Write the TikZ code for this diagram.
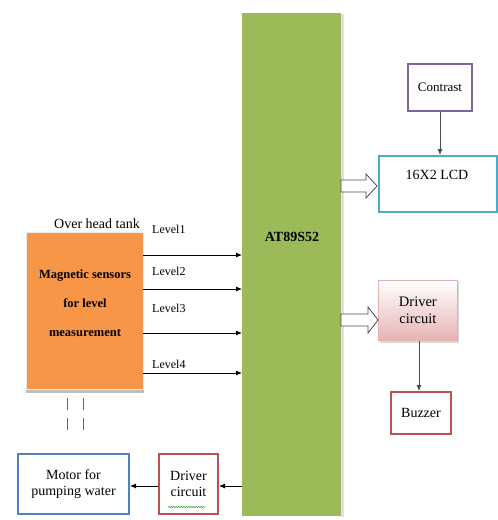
\documentclass[tikz,border=0pt]{standalone}
\usepackage{fontspec}
\setmainfont{Liberation Serif}
\usetikzlibrary{arrows.meta,decorations.pathmorphing}
\definecolor{mcgreen}{HTML}{9BBB59}
\definecolor{mcorange}{HTML}{F79646}
\definecolor{mcpurple}{HTML}{8064A2}
\definecolor{mccyan}{HTML}{4BACC6}
\definecolor{mcred}{HTML}{C0504D}
\definecolor{mcblue}{HTML}{4F81BD}
\definecolor{mcpink}{HTML}{E6B3B2}
\tikzset{
  x=1pt,y=-1pt,
  txt/.style={font=\fontsize{14}{15}\selectfont, inner sep=0pt},
  lvl/.style={font=\fontsize{12}{14}\selectfont, inner sep=0pt, anchor=west},
  boxed/.style={draw, line width=2pt, fill=white, align=center, font=\fontsize{14}{16}\selectfont, inner sep=0pt},
  arr/.style={-{Latex[length=6pt,width=5pt]}, line width=0.8pt},
  darr/.style={-{Latex[length=6pt,width=5pt]}, line width=0.8pt, draw=black!70},
  hollow/.style={draw=black!70, fill=white, line width=0.8pt},
  dsh/.style={draw=black!60, line width=1pt, dash pattern=on 12pt off 8pt}
}
\begin{document}
\begin{tikzpicture}
\useasboundingbox (0,0) rectangle (498,520);
% microcontroller
\fill[black!12] (341,14) rectangle (344,517);
\node[fill=mcgreen, minimum width=99pt, minimum height=503pt, inner sep=0pt, anchor=north west] (mcu) at (242,13) {};
\node[txt, font=\fontsize{14}{15}\selectfont\bfseries] (mcutxt) at (292,237) {AT89S52};
% orange sensor box
\fill[black!25] (26,389) rectangle (144,393);
\node[fill=mcorange, draw=black!8, line width=1pt, minimum width=117pt, minimum height=157pt, inner sep=0pt, anchor=north west] (sens) at (26,232) {};
\node[txt, font=\fontsize{12.5}{14}\selectfont\bfseries, align=center] (senstxt) at (85,303) {Magnetic sensors\\[15pt]for level\\[15pt]measurement};
\node[txt, anchor=south] (tank) at (97,229) {Over head tank};
% level arrows
\coordinate (l1) at (143,255); \coordinate (l2) at (143,289);
\coordinate (l3) at (143,333); \coordinate (l4) at (143,373);
\coordinate (m1) at (242,255); \coordinate (m2) at (242,289);
\coordinate (m3) at (242,333); \coordinate (m4) at (242,373);
\draw[arr] (l1) -- (m1);
\draw[arr] (l2) -- (m2);
\draw[arr] (l3) -- (m3);
\draw[arr] (l4) -- (m4);
\node[lvl] (lv1) at (152,229) {Level1};
\node[lvl] (lv2) at (152,271) {Level2};
\node[lvl] (lv3) at (152,308) {Level3};
\node[lvl] (lv4) at (152,364) {Level4};
% dashed pipes
\coordinate (p1a) at (67,398); \coordinate (p1b) at (67,436);
\coordinate (p2a) at (83,398); \coordinate (p2b) at (83,436);
\draw[dsh] (p1a) -- (p1b);
\draw[dsh] (p2a) -- (p2b);
% contrast and LCD
\node[boxed, draw=mcpurple, minimum width=64pt, minimum height=47pt, font=\fontsize{13}{15}\selectfont] (con) at (440,87.5) {Contrast};
\node[boxed, draw=mccyan, minimum width=118pt, minimum height=56pt, anchor=north west] (lcd) at (378,155) {};
\node[txt] (lcdtxt) at (437,175) {16X2 LCD};
\draw[darr] (con.south) -- (con.south |- lcd.north);
% hollow arrow to LCD
\draw[hollow] (341,180) -- (366,180) -- (366,174) -- (377,186) -- (366,198) -- (366,192) -- (341,192) -- cycle;
% driver circuit (buzzer)
\fill[black!15] (380,282) rectangle (459,343);
\node[draw=mcred!45, line width=0.8pt, top color=white, bottom color=mcpink, minimum width=79pt, minimum height=60pt, inner sep=0pt, align=center, font=\fontsize{14.5}{17}\selectfont, anchor=north west] (drv1) at (378,280) {Driver\\circuit};
\draw[hollow] (341,314) -- (368,314) -- (368,307) -- (378,320) -- (368,333) -- (368,326) -- (341,326) -- cycle;
\node[boxed, draw=mcred, minimum width=60pt, minimum height=42pt, anchor=north west] (buz) at (390,391) {Buzzer};
\draw[darr] (drv1.south -| 419,0) -- (buz.north -| 419,0);
% bottom: driver and motor
\node[boxed, draw=mcred, minimum width=59pt, minimum height=60pt, anchor=north west] (drv2) at (158,453) {Driver\\circuit};
\node[boxed, draw=mcblue, minimum width=111pt, minimum height=60pt, anchor=north west] (mot) at (17,453) {Motor for\\pumping water};
\coordinate (mcuout) at (242,486);
\draw[arr] (mcuout) -- (drv2.east |- mcuout);
\draw[arr] (drv2.west |- mcuout) -- (mot.east |- mcuout);
\draw[green!60!black, line width=0.5pt, decorate, decoration={snake, amplitude=0.6pt, segment length=2.5pt}] (168,507) -- (205,507);
\end{tikzpicture}
\end{document}
